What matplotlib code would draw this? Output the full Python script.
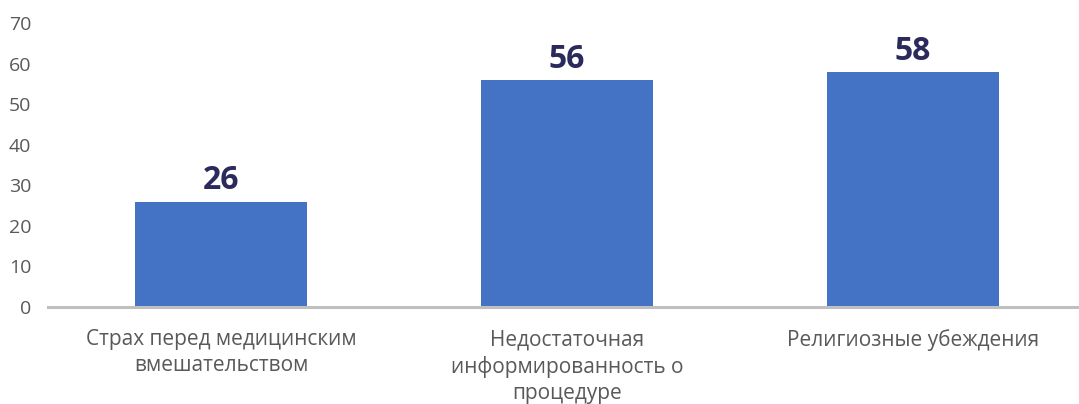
import matplotlib.pyplot as plt
import numpy as np

plt.rcParams['font.family'] = ['Open Sans', 'DejaVu Sans']

categories = ['Страх перед медицинским\nвмешательством',
              'Недостаточная\nинформированность о\nпроцедуре',
              'Религиозные убеждения']
values = [26, 56, 58]

fig = plt.figure(figsize=(10.79, 4.04), dpi=100)
ax = fig.add_axes([48 / 1079, 0.24, 1031 / 1079, 0.703])

x = np.arange(len(categories))
bars = ax.bar(x, values, width=0.497, color='#4472C4', zorder=2)

for b, v in zip(bars, values):
    ax.text(b.get_x() + b.get_width() / 2, v + 1.0, str(v), ha='center', va='bottom',
            fontsize=23, fontweight='bold', color='#2B2A5C')

ax.set_ylim(0, 70)
ax.set_yticks(range(0, 71, 10))
ax.set_xlim(-0.5, -0.5 + 1031 / 346)
ax.set_xticks(x)
ax.set_xticklabels(categories, fontsize=15, color='#595959', linespacing=1.32)

for s in ['top', 'right', 'left']:
    ax.spines[s].set_visible(False)
ax.spines['bottom'].set_color('#BFBFBF')
ax.spines['bottom'].set_linewidth(2.2)
ax.tick_params(axis='both', length=0)
ax.tick_params(axis='x', pad=16)
ax.tick_params(axis='y', pad=12, labelsize=14, labelcolor='#595959')

fig.savefig('out.png', dpi=100)
